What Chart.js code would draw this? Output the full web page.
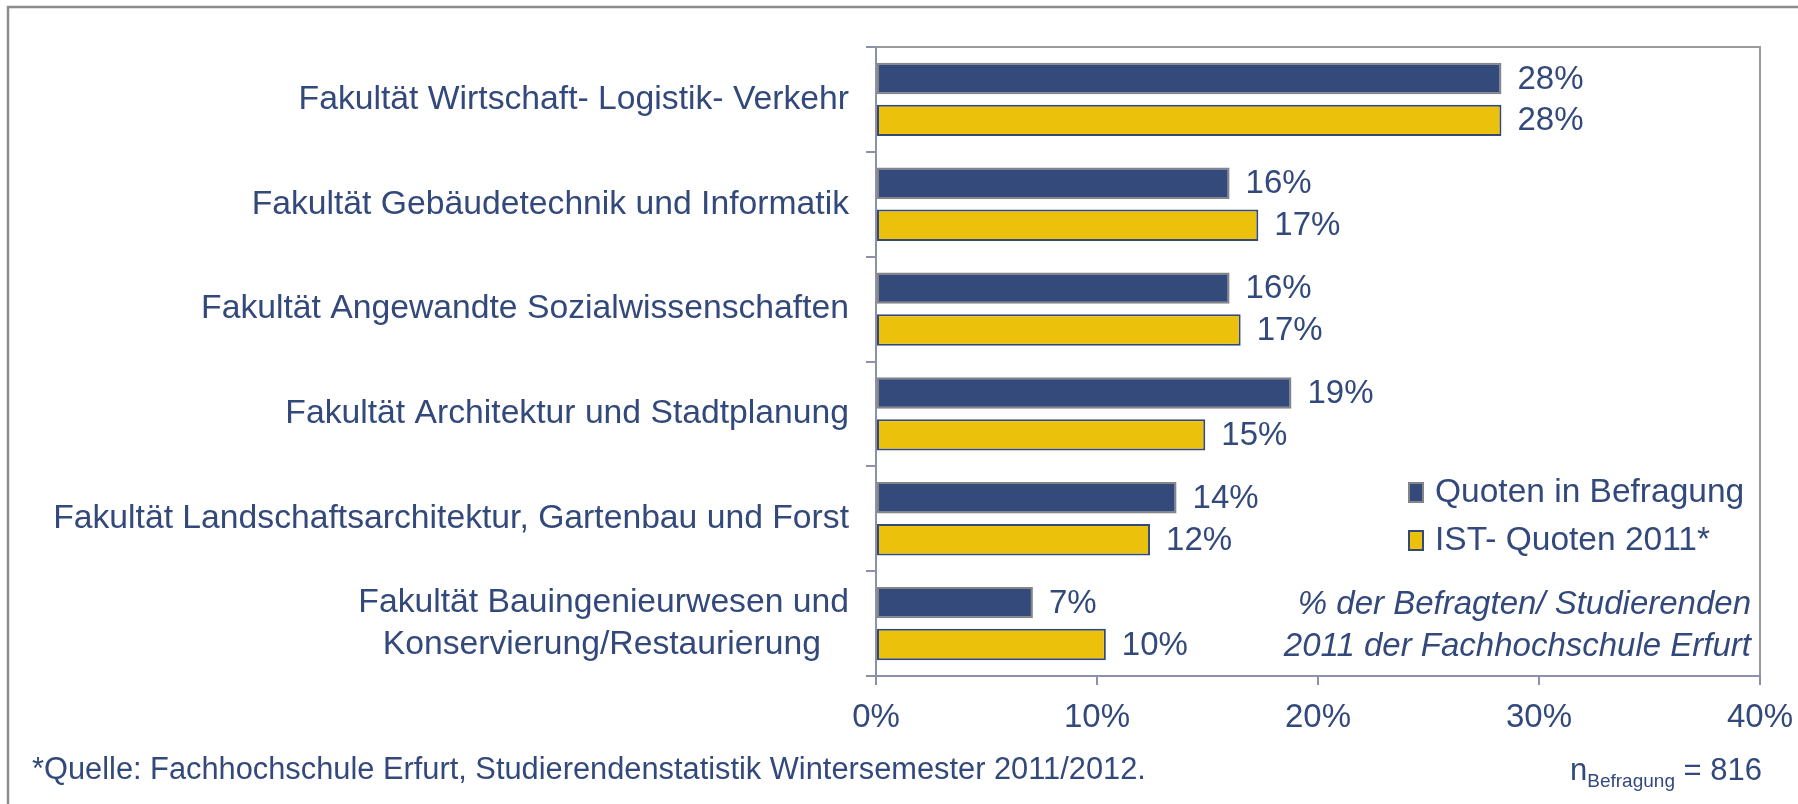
<!DOCTYPE html>
<html>
<head>
<meta charset="utf-8">
<script src="https://cdn.jsdelivr.net/npm/chart.js@4.4.0/dist/chart.umd.min.js"></script>
<style>
    html, body { margin: 0; padding: 0; background: #fff; }
    #wrap { width: 1798px; height: 804px; position: relative; }
</style>
</head>
<body>
<div id="wrap"><canvas id="chart" width="1798" height="804"></canvas></div>
<script>
const categories = [
    'Fakultät Wirtschaft- Logistik- Verkehr',
    'Fakultät Gebäudetechnik und Informatik',
    'Fakultät Angewandte Sozialwissenschaften',
    'Fakultät Architektur und Stadtplanung',
    'Fakultät Landschaftsarchitektur, Gartenbau und Forst',
    ['Fakultät Bauingenieurwesen und', 'Konservierung/Restaurierung   '],
];

const seriesNames = ['Quoten in Befragung', 'IST- Quoten 2011*'];

const befragungValues = [28.3, 16.0, 16.0, 18.8, 13.6, 7.1];
const istValues = [28.3, 17.3, 16.5, 14.9, 12.4, 10.4];

const xTickValues = [0, 10, 20, 30, 40];

const noteLines = ['% der Befragten/ Studierenden', '2011 der Fachhochschule Erfurt'];
const sourceText = '*Quelle: Fachhochschule Erfurt, Studierendenstatistik Wintersemester 2011/2012.';
const sampleSize = 816;

const textColor = '#33497b';
const axisColor = '#8b91a8';
const fontFamily = '"Liberation Sans", Arial, sans-serif';

// frame, plot border, legend, notes
const decorPlugin = {
    id: 'decor',
    beforeDraw(chart) {
        const ctx = chart.ctx;
        ctx.save();
        ctx.strokeStyle = '#8c8c8c';
        ctx.lineWidth = 2.5;
        ctx.beginPath();
        ctx.moveTo(1798, 7);
        ctx.lineTo(8, 7);
        ctx.lineTo(8, 804);
        ctx.stroke();

        const a = chart.chartArea;
        ctx.strokeStyle = '#9a9a9a';
        ctx.lineWidth = 2;
        ctx.beginPath();
        ctx.moveTo(a.left, a.top);
        ctx.lineTo(a.right, a.top);
        ctx.lineTo(a.right, a.bottom);
        ctx.stroke();
        ctx.restore();
    },
    afterDatasetsDraw(chart) {
        const ctx = chart.ctx;
        ctx.save();
        ctx.font = '33px ' + fontFamily;
        ctx.fillStyle = textColor;
        ctx.textAlign = 'left';
        ctx.textBaseline = 'middle';
        chart.data.datasets.forEach((ds, i) => {
            chart.getDatasetMeta(i).data.forEach((bar, j) => {
                ctx.fillText(Math.round(ds.data[j]) + '%', bar.x + 16, bar.y + 1);
            });
        });
        ctx.restore();
    },
    afterDraw(chart) {
        const ctx = chart.ctx;
        ctx.save();
        ctx.textBaseline = 'middle';

        // legend
        const legendY = [492, 540];
        chart.data.datasets.forEach((ds, i) => {
            ctx.fillStyle = ds.backgroundColor;
            ctx.strokeStyle = ds.borderColor;
            ctx.lineWidth = 2;
            ctx.fillRect(1409, legendY[i] - 9, 14, 19);
            ctx.strokeRect(1409, legendY[i] - 9, 14, 19);
            ctx.fillStyle = textColor;
            ctx.font = '33.5px ' + fontFamily;
            ctx.textAlign = 'left';
            ctx.fillText(ds.label, 1435, legendY[i] + 1);
        });

        // note
        ctx.font = 'italic 33px ' + fontFamily;
        ctx.textAlign = 'right';
        ctx.fillText(noteLines[0], 1751, 605);
        ctx.fillText(noteLines[1], 1751, 647);

        // source
        ctx.textBaseline = 'alphabetic';
        ctx.textAlign = 'left';
        ctx.font = '30.8px ' + fontFamily;
        ctx.fillText(sourceText, 32, 779);

        // n
        ctx.font = '31px ' + fontFamily;
        const tail = ' = ' + sampleSize;
        const tailW = ctx.measureText(tail).width;
        const right = 1762;
        ctx.textAlign = 'right';
        ctx.fillText(tail, right, 780);
        ctx.font = '19px ' + fontFamily;
        const subW = ctx.measureText('Befragung').width;
        ctx.fillText('Befragung', right - tailW, 787);
        ctx.font = '31px ' + fontFamily;
        ctx.fillText('n', right - tailW - subW, 780);
        ctx.restore();
    }
};

const chart = new Chart(document.getElementById('chart'), {
    type: 'bar',
    data: {
        labels: categories,
        datasets: [{
            label: seriesNames[0],
            data: befragungValues,
            backgroundColor: '#334a7b',
            borderColor: '#858585',
            borderWidth: 2,
            borderSkipped: false,
            categoryPercentage: 0.8,
            barPercentage: 0.75,
        },
        {
            label: seriesNames[1],
            data: istValues,
            backgroundColor: '#ebc10b',
            borderColor: '#34497a',
            borderWidth: 2,
            borderSkipped: false,
            categoryPercentage: 0.8,
            barPercentage: 0.75,
        }]
    },
    options: {
        indexAxis: 'y',
        responsive: false,
        animation: false,
        devicePixelRatio: 1,
        layout: { padding: { top: 47, right: 38, bottom: 0, left: 0 } },
        plugins: {
            legend: { display: false },
            tooltip: { enabled: false },
        },
        scales: {
            x: {
                min: 0,
                max: 40,
                afterBuildTicks: s => { s.ticks = xTickValues.map(v => ({ value: v })); },
                afterFit: s => {
                    s.height = 128;
                    s.paddingLeft = 0;
                    s.paddingRight = 0;
                },
                ticks: {
                    callback: v => v + '%',
                    color: textColor,
                    font: { size: 33, family: fontFamily, lineHeight: 1.2 },
                    padding: 13,
                    maxRotation: 0,
                },
                grid: {
                    drawOnChartArea: false,
                    tickLength: 9,
                    color: axisColor,
                    lineWidth: 2,
                },
                border: { color: axisColor, width: 2 },
            },
            y: {
                afterFit: s => {
                    s.width = 876;
                    s.paddingTop = 0;
                    s.paddingBottom = 0;
                },
                ticks: {
                    color: textColor,
                    font: { size: 33.7, family: fontFamily, lineHeight: 1.25 },
                    padding: 17,
                },
                grid: {
                    offset: true,
                    drawOnChartArea: false,
                    tickLength: 10,
                    color: axisColor,
                    lineWidth: 2,
                },
                border: { color: axisColor, width: 2 },
            }
        }
    },
    plugins: [decorPlugin]
});
</script>
</body>
</html>
